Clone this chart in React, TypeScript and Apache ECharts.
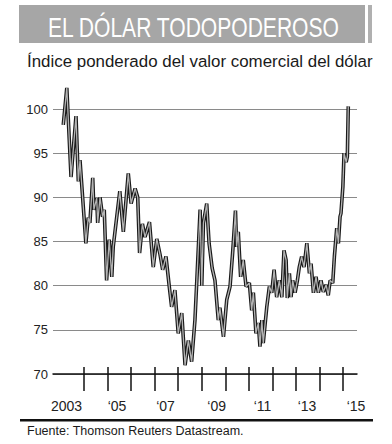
import React, { useEffect, useRef } from "react";
import * as echarts from "echarts";

const years = [
  2003.12, 2003.27, 2003.45, 2003.66, 2003.76, 2003.83, 2004.08, 2004.18, 2004.25, 2004.37,
  2004.42, 2004.54, 2004.58, 2004.68, 2004.79, 2004.86, 2004.96, 2005.07, 2005.18, 2005.24,
  2005.52, 2005.67, 2005.88, 2006.0, 2006.17, 2006.28, 2006.36, 2006.48, 2006.59, 2006.78,
  2006.94, 2007.09, 2007.23, 2007.34, 2007.48, 2007.62, 2007.72, 2007.86, 2008.0, 2008.15,
  2008.29, 2008.43, 2008.57, 2008.71, 2008.79, 2008.93, 2009.0, 2009.07, 2009.21, 2009.31,
  2009.44, 2009.56, 2009.7, 2009.77, 2009.92, 2010.06, 2010.2, 2010.31, 2010.43, 2010.48,
  2010.55, 2010.65, 2010.76, 2010.88, 2011.02, 2011.12, 2011.19, 2011.3, 2011.4, 2011.47,
  2011.55, 2011.61, 2011.76, 2011.87, 2011.97, 2012.07, 2012.18, 2012.29, 2012.4, 2012.49,
  2012.58, 2012.63, 2012.72, 2012.79, 2012.86, 2012.96, 2013.06, 2013.14, 2013.24, 2013.34,
  2013.46, 2013.57, 2013.64, 2013.74, 2013.85, 2013.95, 2014.06, 2014.16, 2014.28, 2014.37,
  2014.45, 2014.56, 2014.63, 2014.73, 2014.8, 2014.87, 2014.91, 2014.99, 2015.04, 2015.13,
  2015.18, 2015.22,
];

const values = [
  98.2, 102.4, 92.3, 99.2, 91.8, 94.2, 84.8, 87.7, 87.1, 92.2,
  88.6, 89.9, 87.1, 90.0, 87.8, 88.6, 80.6, 85.2, 81.0, 84.4,
  90.7, 86.1, 92.7, 89.3, 91.0, 90.0, 83.7, 87.0, 85.5, 87.2,
  82.1, 85.3, 83.5, 81.8, 83.3, 79.9, 77.6, 79.5, 74.6, 76.9,
  71.0, 73.8, 71.4, 76.1, 80.6, 88.6, 80.0, 87.1, 89.3, 84.8,
  82.0, 80.6, 76.1, 77.5, 74.2, 78.4, 79.9, 83.7, 88.5, 84.4,
  86.1, 81.0, 82.9, 79.9, 80.3, 77.2, 79.2, 74.6, 75.8, 73.1,
  76.1, 73.5, 77.6, 79.9, 79.2, 81.8, 78.7, 80.6, 78.7, 84.0,
  82.9, 78.6, 81.4, 78.7, 80.6, 79.2, 80.6, 82.1, 83.3, 82.1,
  84.8, 81.4, 82.5, 79.2, 81.0, 79.2, 80.6, 79.3, 80.1, 78.9,
  80.6, 80.3, 83.3, 86.5, 84.8, 87.8, 88.2, 91.2, 95.0, 94.0,
  94.6, 100.3,
];

const tickYears = [2004, 2005, 2006, 2007, 2008, 2009, 2010, 2011, 2012, 2013, 2014, 2015];
const labelPositions = [2003.26, 2005.4, 2007.46, 2009.63, 2011.58, 2013.47, 2015.55];
const labelTexts = ["2003", "\u201805", "\u201807", "\u201809", "\u201811", "\u201813", "\u201815"];

const title = "EL DÓLAR TODOPODEROSO";
const subtitle = "Índice ponderado del valor comercial del dólar";
const source = "Fuente: Thomson Reuters Datastream.";

export default function App() {
  const ref = useRef<HTMLDivElement>(null);
  useEffect(() => {
    if (!ref.current) return;
    const chart = echarts.init(ref.current, undefined, { renderer: "svg" });
    const data = years.map((y, i) => [y, values[i]]);
    const xMin = 2002.684;
    const xMax = 2015.59;
    chart.setOption({
      animation: false,
      backgroundColor: "#ffffff",
      textStyle: { fontFamily: "Liberation Sans, Arial, sans-serif" },
      grid: { left: 53, right: 35, top: 109, bottom: 70, containLabel: false },
      xAxis: [
        {
          type: "value",
          min: xMin,
          max: xMax,
          position: "bottom",
          axisLine: { show: true, lineStyle: { color: "#111", width: 1.5 } },
          axisTick: {
            show: true,
            customValues: tickYears,
            length: 17,
            lineStyle: { color: "#111", width: 1.5 },
          },
          axisLabel: {
            show: true,
            customValues: labelPositions,
            margin: 25,
            fontSize: 14,
            color: "#222",
            formatter: (v: number) => {
              const i = labelPositions.findIndex((p) => Math.abs(p - v) < 0.001);
              return i >= 0 ? labelTexts[i] : "";
            },
          },
          splitLine: { show: false },
        },
        {
          type: "value",
          min: xMin,
          max: xMax,
          position: "bottom",
          offset: 0,
          axisLine: { show: false },
          axisTick: {
            show: true,
            inside: true,
            customValues: tickYears,
            length: 7,
            lineStyle: { color: "#111", width: 1.5 },
          },
          axisLabel: { show: false },
          splitLine: { show: false },
        },
      ],
      yAxis: {
        type: "value",
        min: 70,
        max: 100,
        interval: 5,
        axisLine: { show: false },
        axisTick: { show: false },
        axisLabel: {
          fontSize: 13,
          color: "#222",
          margin: 5,
          padding: [0, 0, 6, 0],
        },
        splitLine: { show: true, lineStyle: { color: "#8a8a8a", width: 1.2 } },
      },
      series: [
        {
          type: "line",
          data,
          xAxisIndex: 0,
          showSymbol: false,
          clip: false,
          lineStyle: { color: "#1a1a1a", width: 3.6 },
          z: 3,
        },
        {
          type: "line",
          data,
          xAxisIndex: 0,
          showSymbol: false,
          clip: false,
          lineStyle: { color: "#b4b4b4", width: 1.3 },
          z: 4,
        },
      ],
      graphic: [
        { type: "rect", shape: { x: 19, y: 5, width: 346, height: 38 }, style: { fill: "#a6a6a6" } },
        { type: "rect", shape: { x: 368, y: 5, width: 4, height: 38 }, style: { fill: "#b0b0b0" } },
        {
          type: "text",
          x: 48,
          y: 28,
          scaleX: 0.78,
          style: {
            text: title,
            fill: "#ffffff",
            fontSize: 27,
            fontFamily: "Liberation Sans, Arial, sans-serif",
            verticalAlign: "middle",
            align: "left",
          },
        },
        {
          type: "text",
          x: 27,
          y: 61,
          style: {
            text: subtitle,
            fill: "#1a1a1a",
            fontSize: 16.9,
            fontFamily: "Liberation Sans, Arial, sans-serif",
            verticalAlign: "middle",
            align: "left",
          },
        },
        { type: "rect", shape: { x: 20, y: 419, width: 353, height: 2.4 }, style: { fill: "#111" } },
        {
          type: "text",
          x: 27,
          y: 431,
          style: {
            text: source,
            fill: "#1a1a1a",
            fontSize: 12.5,
            fontFamily: "Liberation Sans, Arial, sans-serif",
            verticalAlign: "middle",
            align: "left",
          },
        },
      ],
    });
    return () => chart.dispose();
  }, []);
  return (
    <div
      ref={ref}
      style={{ position: "fixed", left: 0, top: 0, width: 392, height: 444, background: "#fff" }}
    />
  );
}
